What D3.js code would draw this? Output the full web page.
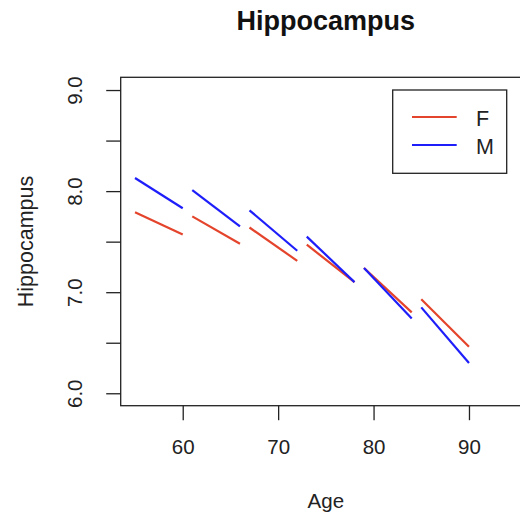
<!DOCTYPE html>
<html>
<head>
<meta charset="utf-8">
<script src="https://cdn.jsdelivr.net/npm/d3@7"></script>
<style>
  html, body { margin: 0; padding: 0; background: #fff; }
  svg { display: block; font-family: "Liberation Sans", Arial, Helvetica, sans-serif; }
</style>
</head>
<body>
<svg id="chart" width="520" height="515"></svg>
<script>
// ---- data ----
const ageStart = [55, 61, 67, 73, 79, 85];
const ageEnd   = [60, 66, 72, 78, 84, 90];
const fStart = [7.79, 7.75, 7.64, 7.47, 7.24, 6.93];
const fEnd   = [7.57, 7.48, 7.31, 7.10, 6.80, 6.46];
const mStart = [8.13, 8.01, 7.81, 7.55, 7.24, 6.85];
const mEnd   = [7.83, 7.65, 7.41, 7.10, 6.74, 6.30];
const seriesNames = ["F", "M"];
const xTicks = [60, 70, 80, 90];
const yTicks = [6.0, 6.5, 7.0, 7.5, 8.0, 8.5, 9.0];
const yLabelTicks = [6.0, 7.0, 8.0, 9.0];
const titleText = "Hippocampus";
const xLabel = "Age";
const yLabel = "Hippocampus";

// ---- layout ----
const colors = { F: "#E4442B", M: "#1E1EFA" };
const plot = { left: 120.7, right: 531, top: 77.3, bottom: 405.7 };
const svg = d3.select("#chart");

const x = d3.scaleLinear().domain([53.5, 96.5]).range([plot.left, plot.right]);
const y = d3.scaleLinear().domain([5.877, 9.126]).range([plot.bottom, plot.top]);

const segData = [];
ageStart.forEach((a, i) => {
  segData.push({ s: "F", x1: a, x2: ageEnd[i], y1: fStart[i], y2: fEnd[i] });
  segData.push({ s: "M", x1: a, x2: ageEnd[i], y1: mStart[i], y2: mEnd[i] });
});

// segments
svg.append("g").selectAll("line").data(segData).join("line")
  .attr("x1", d => x(d.x1)).attr("x2", d => x(d.x2))
  .attr("y1", d => y(d.y1)).attr("y2", d => y(d.y2))
  .attr("stroke", d => colors[d.s])
  .attr("stroke-width", 2.2);

// frame
svg.append("rect")
  .attr("x", plot.left).attr("y", plot.top)
  .attr("width", plot.right - plot.left).attr("height", plot.bottom - plot.top)
  .attr("fill", "none").attr("stroke", "#222").attr("stroke-width", 1.3);

// x axis
const xAxis = d3.axisBottom(x).tickValues(xTicks).tickSize(14.5).tickFormat(d3.format("d"));
const gx = svg.append("g").attr("transform", `translate(0,${plot.bottom})`).call(xAxis);
gx.select(".domain").remove();
gx.selectAll(".tick line").attr("stroke", "#222").attr("stroke-width", 1.3);
gx.selectAll(".tick text").attr("y", 48.5).attr("dy", null)
  .attr("font-size", 20.5).attr("fill", "#222")
  .attr("font-family", "\"Liberation Sans\", Arial, sans-serif");

// y axis
const yAxis = d3.axisLeft(y).tickValues(yTicks).tickSize(14.5)
  .tickFormat(d => yLabelTicks.includes(d) ? d3.format(".1f")(d) : "");
const gy = svg.append("g").attr("transform", `translate(${plot.left},0)`).call(yAxis);
gy.select(".domain").remove();
gy.selectAll(".tick line").attr("stroke", "#222").attr("stroke-width", 1.3);
gy.selectAll(".tick text")
  .attr("x", null).attr("dy", null)
  .attr("transform", `translate(${82 - plot.left},0) rotate(-90)`)
  .attr("text-anchor", "middle")
  .attr("font-size", 20.5).attr("fill", "#222")
  .attr("font-family", "\"Liberation Sans\", Arial, sans-serif");

// title
svg.append("text").attr("x", (plot.left + plot.right) / 2).attr("y", 30)
  .attr("text-anchor", "middle").attr("font-weight", "bold")
  .attr("font-size", 27).attr("fill", "#111").text(titleText);

// axis labels
svg.append("text").attr("x", (plot.left + plot.right) / 2).attr("y", 507.5)
  .attr("text-anchor", "middle").attr("font-size", 20.5).attr("fill", "#222").text(xLabel);
svg.append("text")
  .attr("transform", `translate(32.5,${(plot.top + plot.bottom) / 2}) rotate(-90)`)
  .attr("text-anchor", "middle").attr("font-size", 21.5).attr("fill", "#222").text(yLabel);

// legend
const lg = svg.append("g");
lg.append("rect").attr("x", 392.7).attr("y", 90).attr("width", 114).attr("height", 83.3)
  .attr("fill", "#fff").attr("stroke", "#222").attr("stroke-width", 1.3);
seriesNames.forEach((s, i) => {
  const ly = 117 + i * 28;
  lg.append("line").attr("x1", 412).attr("x2", 456.7).attr("y1", ly).attr("y2", ly)
    .attr("stroke", colors[s]).attr("stroke-width", 2.2);
  lg.append("text").attr("x", 476).attr("y", ly + 8.5)
    .attr("font-size", 21.5).attr("fill", "#222").text(s);
});
</script>
</body>
</html>
